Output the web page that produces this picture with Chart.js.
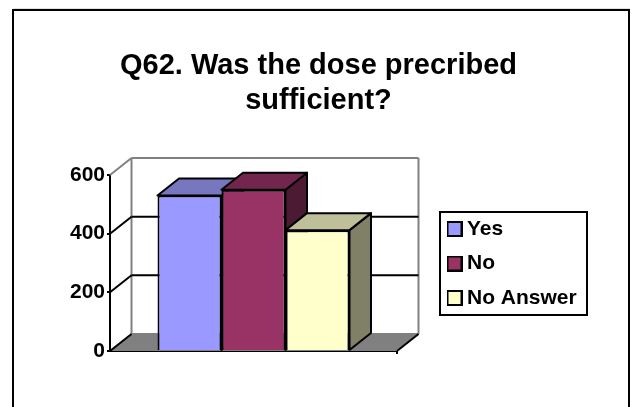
<!DOCTYPE html>
<html><head><meta charset="utf-8">
<style>html,body{margin:0;padding:0;background:#fff}#w{position:absolute;left:0;top:0;width:637px;height:407px}</style>
<script src="https://cdn.jsdelivr.net/npm/chart.js@4/dist/chart.umd.js"></script>
</head><body><div id="w"><canvas id="c" width="637" height="407"></canvas></div>
<script>
const categories = ['Q62'];
const seriesNames = ['Yes', 'No', 'No Answer'];
const yesValues = [530];
const noValues = [550];
const noAnswerValues = [412];
const tickValues = [0, 200, 400, 600];
const titleLines = ['Q62. Was the dose precribed', 'sufficient?'];
const frontColors = ['#9999FF', '#993366', '#FFFFCC'];
const topColors = ['#7777C0', '#73264D', '#BFBF99'];
const sideColors = ['#4D4D80', '#4D1A33', '#808066'];
const DX = 21.5, DY = 17;

function poly(ctx, pts, fill, stroke, lw) {
  ctx.beginPath();
  pts.forEach((p, i) => i ? ctx.lineTo(p[0], p[1]) : ctx.moveTo(p[0], p[1]));
  ctx.closePath();
  if (fill) { ctx.fillStyle = fill; ctx.fill(); }
  if (stroke) { ctx.strokeStyle = stroke; ctx.lineWidth = lw || 2; ctx.lineJoin = 'round'; ctx.stroke(); }
}
function line(ctx, a, b, c, lw) {
  ctx.beginPath(); ctx.moveTo(a[0], a[1]); ctx.lineTo(b[0], b[1]);
  ctx.strokeStyle = c; ctx.lineWidth = lw || 2; ctx.stroke();
}
function swatch(color) {
  const cv = document.createElement('canvas'); cv.width = 16; cv.height = 16;
  const g = cv.getContext('2d');
  g.fillStyle = color; g.fillRect(1, 1, 14, 14);
  g.strokeStyle = '#000'; g.lineWidth = 2; g.strokeRect(1, 1, 14, 14);
  return cv;
}
const swatches = frontColors.map(swatch);
const frame = {
  id: 'frame',
  beforeLayout(chart) {
    const lg = chart.legend;
    if (lg && !lg.__patched) {
      const fit = lg.fit;
      lg.fit = function () { fit.call(this); this.width = 240; };
      lg.__patched = true;
    }
  },
  beforeDraw(chart) {
    const { ctx, width, height } = chart;
    ctx.save();
    line(ctx, [13, 8.5], [630, 8.5], '#e2e2e2', 1);
    ctx.strokeStyle = '#000'; ctx.lineWidth = 2;
    ctx.strokeRect(13, 10, 616, height + 20);
    ctx.restore();
    const lg = chart.legend;
    lg.left = 439; lg.top = 205; lg.right = 600; lg.bottom = 1000;
  },
  beforeDatasetsDraw(chart) {
    const { ctx, chartArea: a, scales: { y } } = chart;
    const l = a.left, r = a.right, b = a.bottom, t = y.getPixelForValue(600);
    ctx.save();
    poly(ctx, [[l, b], [l + DX, b - DY], [r + DX, b - DY], [r, b]], '#808080');
    line(ctx, [l + DX, t - DY], [r + DX, t - DY], '#808080');
    line(ctx, [r + DX, t - DY], [r + DX, b - DY], '#808080');
    line(ctx, [l + DX, t - DY], [l + DX, b - DY], '#808080');
    line(ctx, [l + DX, b - DY], [r + DX, b - DY], '#808080');
    line(ctx, [l, t], [l + DX, t - DY], '#808080');
    tickValues.slice(1, -1).forEach(v => {
      const p = y.getPixelForValue(v);
      line(ctx, [l, p], [l + DX, p - DY], '#000');
      line(ctx, [l + DX, p - DY], [r + DX, p - DY], '#000');
    });
    line(ctx, [l, b], [l + DX, b - DY], '#000');
    line(ctx, [r, b], [r + DX, b - DY], '#000');
    line(ctx, [r, b], [r, b + 3], '#000');
    ctx.restore();
  },
  beforeDatasetDraw() { return false; },
  afterDatasetsDraw(chart) {
    const { ctx } = chart;
    seriesNames.forEach((_, i) => {
      const meta = chart.getDatasetMeta(i);
      meta.controller.draw();
      const { x, y, base, width } = meta.data[0].getProps(['x', 'y', 'base', 'width'], true);
      const L = x - width / 2, R = x + width / 2;
      ctx.save();
      poly(ctx, [[R, y], [R + DX, y - DY], [R + DX, base - DY], [R, base]], sideColors[i], '#000', 2);
      poly(ctx, [[L, y], [L + DX, y - DY], [R + DX, y - DY], [R, y]], topColors[i], '#000', 2);
      ctx.restore();
    });
  },
  afterDraw(chart) {
    const { ctx } = chart;
    ctx.save();
    ctx.strokeStyle = '#000'; ctx.lineWidth = 2;
    ctx.strokeRect(440, 212, 147, 103);
    ctx.restore();
  }
};
const font = { family: '"Liberation Sans", Arial, sans-serif', weight: 'bold' };
new Chart(document.getElementById('c'), {
  type: 'bar',
  plugins: [frame],
  data: {
    labels: categories,
    datasets: [yesValues, noValues, noAnswerValues].map((d, i) => ({
      label: seriesNames[i], data: d,
      backgroundColor: frontColors[i], borderColor: '#000', borderWidth: 2
    }))
  },
  options: {
    responsive: false, animation: false, devicePixelRatio: 1,
    layout: { padding: { left: 0, right: 0, top: 0, bottom: 56 } },
    scales: {
      x: { afterFit(s) { s.height = 0; }, ticks: { display: false }, grid: { display: false }, border: { color: '#000', width: 2 } },
      y: { min: 0, max: 600, afterFit(s) { s.width = 110; },
           afterBuildTicks(s) { s.ticks = tickValues.map(v => ({ value: v })); },
           ticks: { color: '#000', font: { ...font, size: 21 }, padding: 2 },
           grid: { drawOnChartArea: false, drawTicks: true, tickLength: 3, color: '#000', lineWidth: 2 },
           border: { color: '#000', width: 2 } }
    },
    datasets: { bar: { categoryPercentage: 0.669, barPercentage: 1 } },
    plugins: {
      tooltip: { enabled: false },
      title: { display: true, text: titleLines, color: '#000',
               font: { ...font, size: 29, lineHeight: 1.207 }, padding: { top: 48, bottom: 57 } },
      legend: { position: 'right', align: 'start',
                labels: { color: '#000', font: { ...font, size: 21 }, usePointStyle: true, pointStyleWidth: 4, padding: 13.5,
                          generateLabels(chart) {
                            return Chart.defaults.plugins.legend.labels.generateLabels(chart)
                              .map(it => ({ ...it, pointStyle: swatches[it.datasetIndex] }));
                          } } }
    }
  }
});
</script></body></html>
